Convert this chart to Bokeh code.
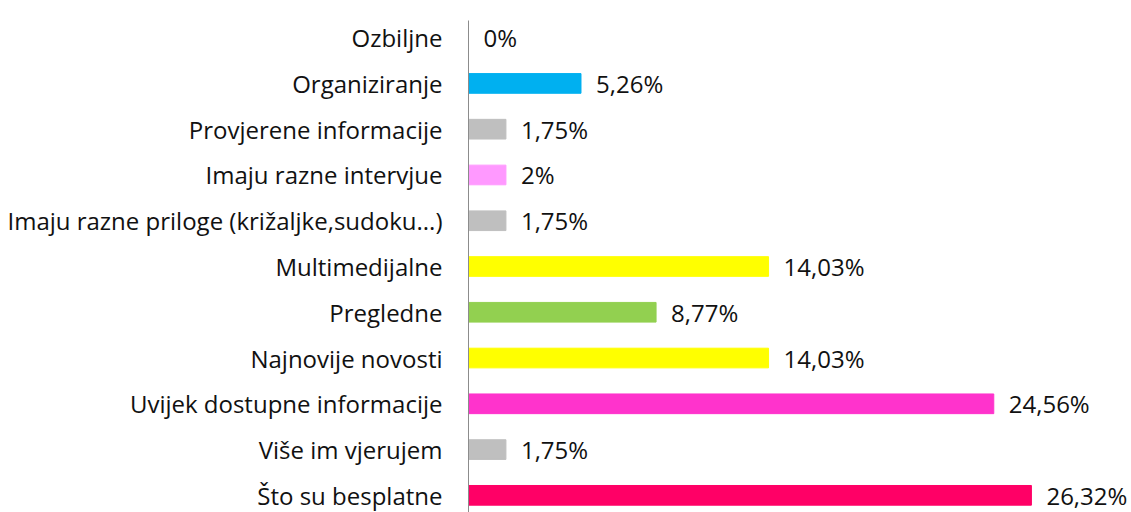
from bokeh.plotting import figure
from bokeh.models import FactorRange, Range1d, ColumnDataSource
from bokeh.core.properties import value
from bokeh.embed import file_html
from bokeh.resources import INLINE

categories = ["Ozbiljne", "Organiziranje", "Provjerene informacije", "Imaju razne intervjue",
              "Imaju razne priloge (križaljke,sudoku...)", "Multimedijalne", "Pregledne",
              "Najnovije novosti", "Uvijek dostupne informacije", "Više im vjerujem",
              "Što su besplatne"]
values = [0, 5.26, 1.75, 1.75, 1.75, 14.03, 8.77, 14.03, 24.56, 1.75, 26.32]
labels = ["0%", "5,26%", "1,75%", "2%", "1,75%", "14,03%", "8,77%", "14,03%", "24,56%", "1,75%", "26,32%"]
colors = ["#BFBFBF", "#00B0F0", "#BFBFBF", "#FF99FF", "#BFBFBF", "#FFFF00", "#92D050",
          "#FFFF00", "#FF33CC", "#BFBFBF", "#FF0066"]

FONT = "Open Sans"
FS = "24px"
src = ColumnDataSource(dict(cat=categories, val=values, lab=labels, col=colors))

p = figure(width=1131, height=512, output_backend="svg", toolbar_location=None,
           y_range=FactorRange(factors=list(reversed(categories)), range_padding=-0.125,
                               range_padding_units="absolute"),
           x_range=Range1d(0, 31),
           min_border_left=468, min_border_right=0, min_border_top=20, min_border_bottom=0)
p.outline_line_color = None
p.grid.grid_line_color = None
p.background_fill_color = "white"
p.border_fill_color = "white"

p.hbar(y="cat", right="val", left=0, height=0.43, color="col", source=src)
p.text(x="val", y="cat", text="lab", source=src, x_offset=15, text_baseline="middle",
       text_align="left", text_font=value(FONT), text_font_size=FS, text_color="#111111")

p.xaxis.visible = False
ya = p.yaxis[0]
ya.axis_line_color = "#8C8C8C"
ya.major_tick_line_color = None
ya.minor_tick_line_color = None
ya.major_tick_out = 0
ya.major_label_standoff = 26
ya.major_label_text_font = FONT
ya.major_label_text_font_size = FS
ya.major_label_text_color = "#111111"

open("out.html", "w").write(file_html(p, INLINE))
